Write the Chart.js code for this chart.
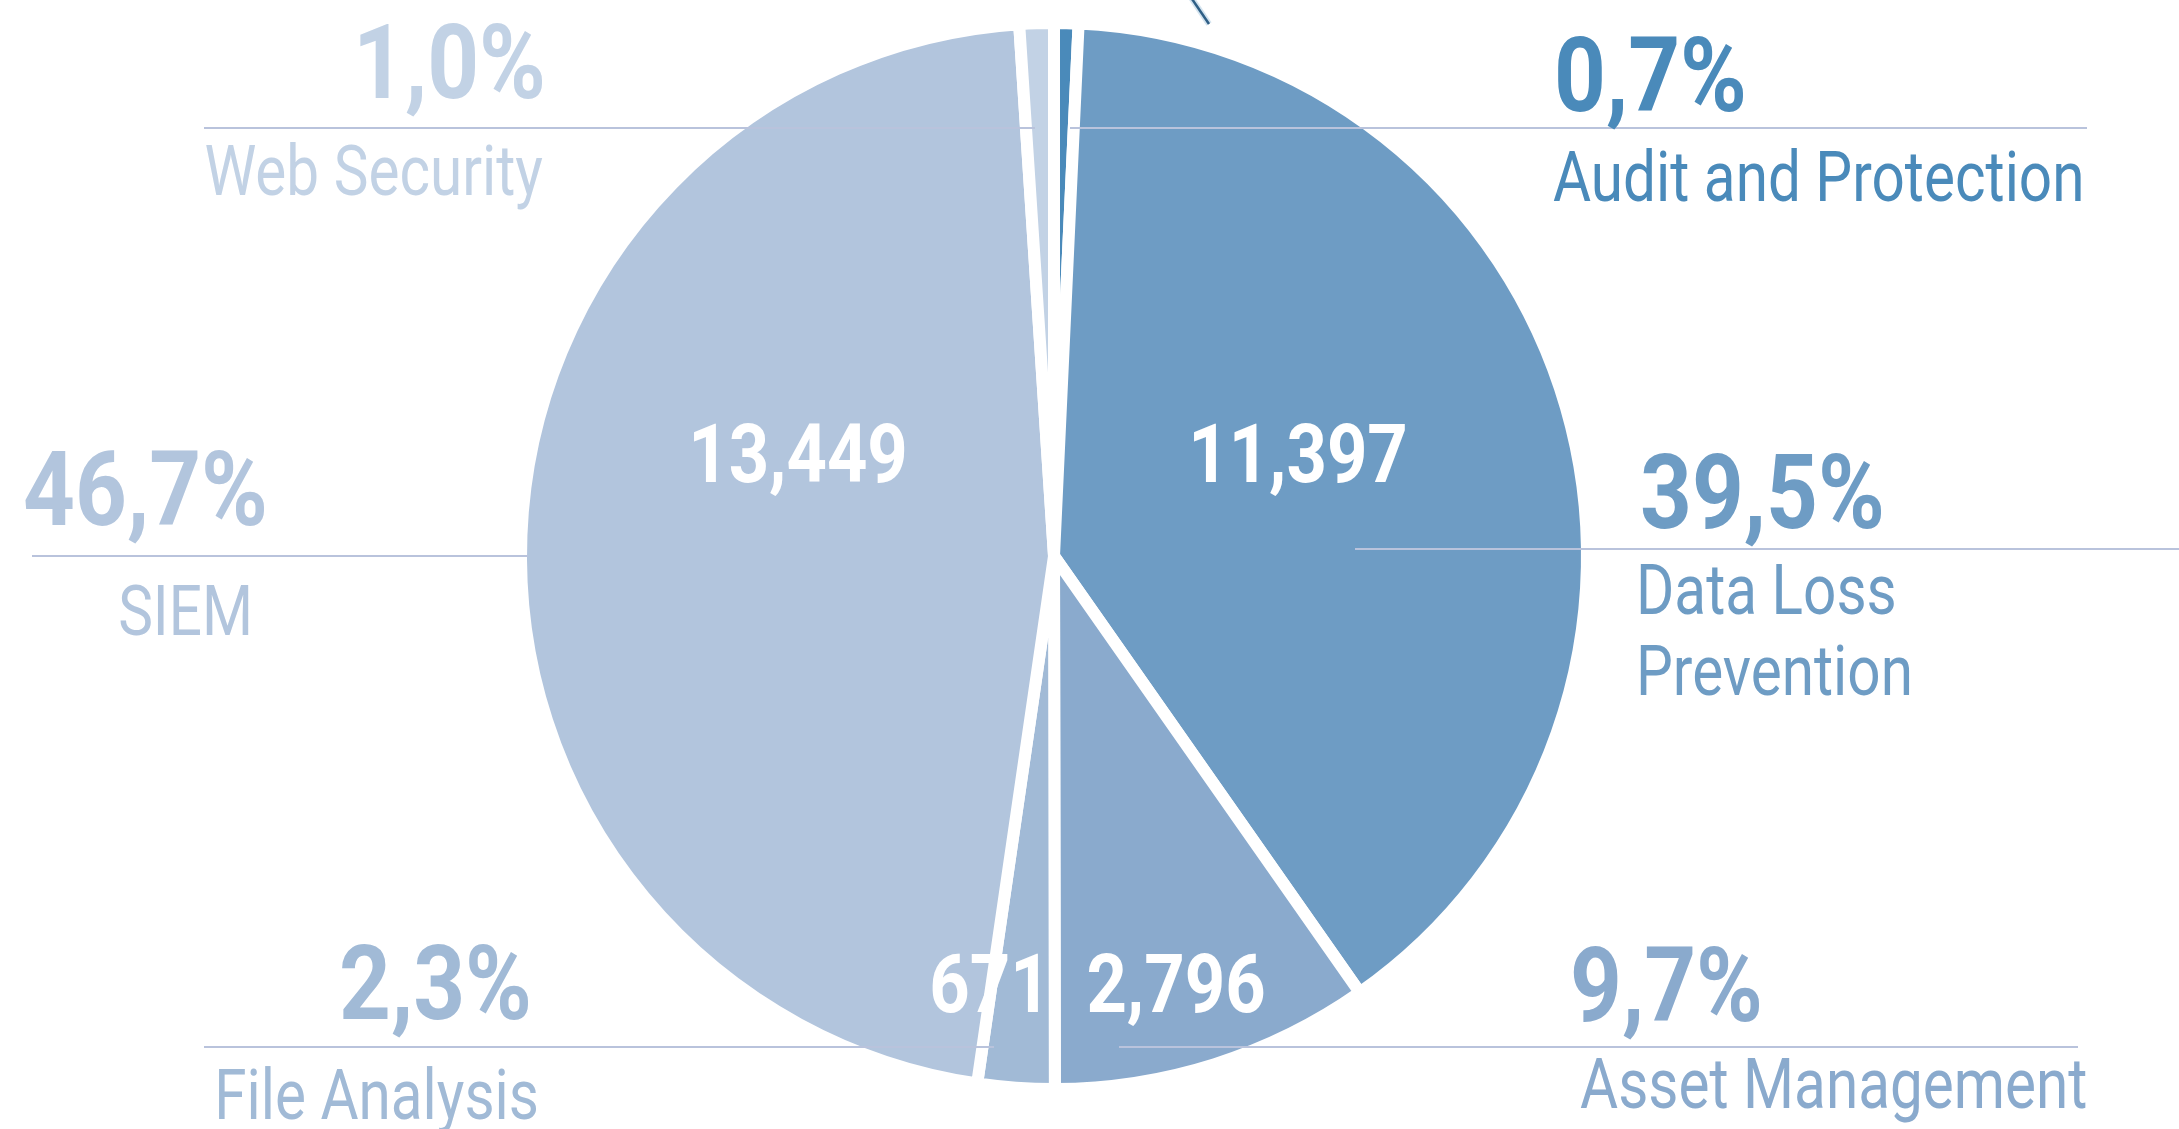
<!DOCTYPE html>
<html>
<head>
    <meta charset="utf-8"/>
    <title>Security products share</title>
    <script src="https://cdn.jsdelivr.net/npm/chart.js"></script>
    <style>
        body {
            margin: 0;
            background-color: #ffffff;
        }

        canvas {
            display: block;
        }
    </style>
</head>
<body>
    <canvas id="shareChart" width="2179" height="1129"></canvas>

    <script>
        // Data
        const categories = ['Audit and Protection', ['Data Loss', 'Prevention'], 'Asset Management', 'File Analysis', 'SIEM', 'Web Security'];
        const counts = [212, 11397, 2796, 671, 13449, 300];
        const showCount = [false, true, true, true, true, false];
        const colors = ['#4a8aba', '#6e9cc4', '#8aaacd', '#a1bad6', '#b2c5dd', '#c2d2e5'];

        const total = counts.reduce((a, b) => a + b, 0);
        const shares = counts.map(v => (v / total * 100).toFixed(1).replace('.', ',') + '%');

        // Label layout, offsets in px from the pie centre
        const labelLayout = [
            { align: 'left',  pct: [500, -445],  line: [-428, 16, 1033],   text: [499, -355] },
            { align: 'left',  pct: [586, -28],   line: [-7, 301, 1125],    text: [582, 58],  value: [244, -74] },
            { align: 'left',  pct: [516, 465],   line: [491, 65, 1024],    text: [526, 552], value: [122, 456] },
            { align: 'right', pct: [-522, 463],  line: [491, -850, -60],   text: [-515, 563], value: [-64, 456] },
            { align: 'right', pct: [-786, -31],  line: [0, -1022, -526],   text: [-801, 79], value: [-256, -74] },
            { align: 'right', pct: [-508, -458], line: [-428, -850, -19],  text: [-511, -361] }
        ];

        function squeezedText(ctx, str, x, y, font, color, align, sx) {
            ctx.save();
            ctx.translate(x, y);
            ctx.scale(sx, 1);
            ctx.font = font;
            ctx.fillStyle = color;
            ctx.textAlign = align;
            ctx.textBaseline = 'alphabetic';
            ctx.fillText(str, 0, 0);
            ctx.restore();
        }

        // Draws leader lines, percentages, names and counts
        const labelPlugin = {
            id: 'pieLabels',
            afterDatasetsDraw(chart) {
                const ctx = chart.ctx;
                const arc = chart.getDatasetMeta(0).data[0];
                const cx = arc.x;
                const cy = arc.y;

                // small stray stroke above the pie
                ctx.save();
                ctx.strokeStyle = 'rgba(200,220,235,0.8)';
                ctx.lineWidth = 6;
                ctx.beginPath();
                ctx.moveTo(cx + 136, cy - 560);
                ctx.lineTo(cx + 155, cy - 532);
                ctx.stroke();
                ctx.strokeStyle = '#2f5f86';
                ctx.lineWidth = 2.5;
                ctx.stroke();
                ctx.restore();

                labelLayout.forEach((l, i) => {
                    // leader line
                    ctx.save();
                    ctx.strokeStyle = '#b9c3dc';
                    ctx.lineWidth = 2;
                    ctx.beginPath();
                    ctx.moveTo(cx + l.line[1], cy + l.line[0]);
                    ctx.lineTo(cx + l.line[2], cy + l.line[0]);
                    ctx.stroke();
                    ctx.restore();

                    squeezedText(ctx, shares[i], cx + l.pct[0], cy + l.pct[1],
                        'bold 104px Roboto', colors[i], l.align, 0.87);

                    const lines = Array.isArray(categories[i]) ? categories[i] : [categories[i]];
                    lines.forEach((t, k) => {
                        squeezedText(ctx, t, cx + l.text[0], cy + l.text[1] + k * 81,
                            '70px Roboto', colors[i], l.align, 0.835);
                    });

                    if (showCount[i] && l.value) {
                        squeezedText(ctx, counts[i].toLocaleString('en-US'), cx + l.value[0], cy + l.value[1],
                            'bold 82px Roboto', '#ffffff', 'center', 0.86);
                    }
                });
            }
        };

        const ctx = document.getElementById('shareChart').getContext('2d');
        new Chart(ctx, {
            type: 'pie',
            data: {
                labels: categories,
                datasets: [{
                    data: counts,
                    backgroundColor: colors,
                    borderColor: '#ffffff',
                    borderWidth: 12
                }]
            },
            options: {
                responsive: false,
                maintainAspectRatio: false,
                devicePixelRatio: 1,
                animation: false,
                radius: 533,
                layout: {
                    padding: { left: 0, right: 71, top: 0, bottom: 17 }
                },
                plugins: {
                    legend: { display: false },
                    tooltip: { enabled: false }
                }
            },
            plugins: [labelPlugin]
        });
    </script>
</body>
</html>
